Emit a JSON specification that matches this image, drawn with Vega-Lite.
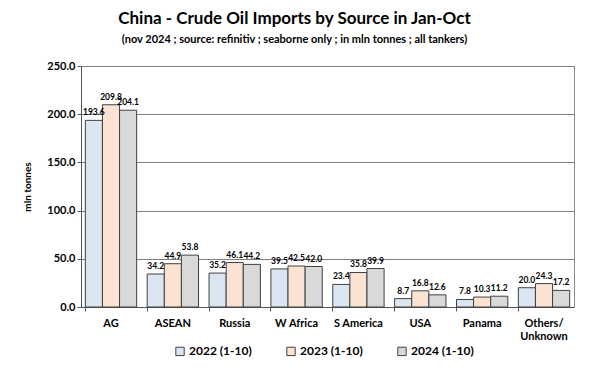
{
  "$schema": "https://vega.github.io/schema/vega-lite/v6.json",
  "width": 493,
  "height": 241,
  "autosize": "none",
  "padding": {"left": 81, "top": 66, "right": 26, "bottom": 84},
  "background": "white",
  "config": {
    "font": "Lato",
    "view": {"stroke": "#8c8c8c", "strokeWidth": 1}
  },
  "title": {
    "text": "China - Crude Oil Imports by Source in Jan-Oct",
    "subtitle": "(nov 2024 ; source: refinitiv ; seaborne only ; in mln tonnes ; all tankers)",
    "anchor": "middle",
    "dx": -33,
    "offset": 14,
    "fontSize": 17,
    "fontWeight": "bold",
    "color": "#000",
    "subtitleFontSize": 11,
    "subtitleFontWeight": "bold",
    "subtitleColor": "#000",
    "subtitlePadding": 6
  },
  "data": {
    "values": [
      {"source": "AG", "year": "2022 (1-10)", "value": 193.6},
      {"source": "AG", "year": "2023 (1-10)", "value": 209.8},
      {"source": "AG", "year": "2024 (1-10)", "value": 204.1},
      {"source": "ASEAN", "year": "2022 (1-10)", "value": 34.2},
      {"source": "ASEAN", "year": "2023 (1-10)", "value": 44.9},
      {"source": "ASEAN", "year": "2024 (1-10)", "value": 53.8},
      {"source": "Russia", "year": "2022 (1-10)", "value": 35.2},
      {"source": "Russia", "year": "2023 (1-10)", "value": 46.1},
      {"source": "Russia", "year": "2024 (1-10)", "value": 44.2},
      {"source": "W Africa", "year": "2022 (1-10)", "value": 39.5},
      {"source": "W Africa", "year": "2023 (1-10)", "value": 42.5},
      {"source": "W Africa", "year": "2024 (1-10)", "value": 42.0},
      {"source": "S America", "year": "2022 (1-10)", "value": 23.4},
      {"source": "S America", "year": "2023 (1-10)", "value": 35.8},
      {"source": "S America", "year": "2024 (1-10)", "value": 39.9},
      {"source": "USA", "year": "2022 (1-10)", "value": 8.7},
      {"source": "USA", "year": "2023 (1-10)", "value": 16.8},
      {"source": "USA", "year": "2024 (1-10)", "value": 12.6},
      {"source": "Panama", "year": "2022 (1-10)", "value": 7.8},
      {"source": "Panama", "year": "2023 (1-10)", "value": 10.3},
      {"source": "Panama", "year": "2024 (1-10)", "value": 11.2},
      {"source": "Others/Unknown", "year": "2022 (1-10)", "value": 20.0},
      {"source": "Others/Unknown", "year": "2023 (1-10)", "value": 24.3},
      {"source": "Others/Unknown", "year": "2024 (1-10)", "value": 17.2}
    ]
  },
  "encoding": {
    "x": {
      "field": "source",
      "type": "nominal",
      "sort": null,
      "scale": {"paddingInner": 0.17, "paddingOuter": 0.07},
      "axis": {
        "title": null,
        "labelAngle": 0,
        "labelFontSize": 11,
        "labelFontWeight": "bold",
        "labelColor": "#000",
        "labelPadding": 6,
        "bandPosition": 0,
        "tickSize": 4,
        "tickColor": "#555",
        "domainColor": "#555",
        "labelExpr": "datum.label == 'Others/Unknown' ? ['Others/', 'Unknown'] : datum.label"
      }
    },
    "xOffset": {"field": "year", "type": "nominal", "scale": {"paddingInner": 0}},
    "y": {
      "field": "value",
      "type": "quantitative",
      "scale": {"domain": [0, 250]},
      "axis": {
        "title": "mln tonnes",
        "titleFontSize": 10,
        "titleFontWeight": "bold",
        "titleColor": "#000",
        "titlePadding": 14,
        "values": [0, 50, 100, 150, 200, 250],
        "format": ".1f",
        "labelFontSize": 11,
        "labelFontWeight": "bold",
        "labelColor": "#000",
        "tickSize": 4,
        "tickColor": "#555",
        "domainColor": "#555",
        "gridColor": "#7f7f7f",
        "gridWidth": 1
      }
    }
  },
  "layer": [
    {
      "mark": {"type": "bar", "stroke": "#404040", "strokeWidth": 1},
      "encoding": {
        "color": {
          "field": "year",
          "type": "nominal",
          "scale": {"range": ["#dce6f2", "#fbe3d4", "#d9d9d9"]},
          "legend": {
            "title": null,
            "orient": "none",
            "legendX": 93,
            "legendY": 279,
            "direction": "horizontal",
            "columns": 3,
            "columnPadding": 32,
            "symbolType": "square",
            "symbolSize": 70,
            "symbolStrokeColor": "#404040",
            "symbolStrokeWidth": 1,
            "labelFontSize": 12,
            "labelFontWeight": "bold",
            "labelColor": "#000",
            "labelOffset": 3
          }
        }
      }
    },
    {
      "mark": {"type": "text", "baseline": "bottom", "dy": -3, "fontSize": 8.5, "fontWeight": "bold", "color": "#000"},
      "encoding": {
        "text": {"field": "value", "type": "quantitative", "format": ".1f"}
      }
    }
  ]
}
